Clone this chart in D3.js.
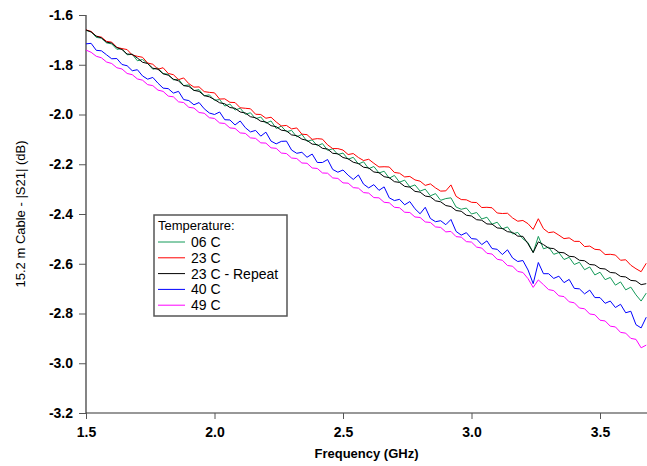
<!DOCTYPE html>
<html>
<head>
<meta charset="utf-8">
<script src="https://cdn.jsdelivr.net/npm/d3@7"></script>
<style>
  body { margin: 0; background: #fff; }
  svg { display: block; font-family: "Liberation Sans", Arial, sans-serif; }
</style>
</head>
<body>
<svg id="chart" width="647" height="466"></svg>
<script>
// sweep: 1.50 GHz to 3.68 GHz, one reading every 0.02 GHz
const freqStart = 1.5;
const freqStep = 0.02;

const seriesNames = ["06 C", "23 C", "23 C - Repeat", "40 C", "49 C"];
const seriesColors = ["#139a58", "#ff0000", "#000000", "#0000ff", "#ff00ff"];

const t06 = [
  -1.662, -1.668, -1.690, -1.693, -1.712, -1.716, -1.738, -1.735, -1.760, -1.758,
  -1.784, -1.779, -1.795, -1.818, -1.813, -1.836, -1.838, -1.861, -1.858, -1.884,
  -1.881, -1.904, -1.900, -1.925, -1.921, -1.943, -1.940, -1.966, -1.958, -1.982,
  -1.975, -1.999, -1.993, -2.017, -2.010, -2.035, -2.026, -2.056, -2.047, -2.069,
  -2.064, -2.090, -2.080, -2.108, -2.102, -2.126, -2.117, -2.144, -2.138, -2.161,
  -2.155, -2.180, -2.172, -2.199, -2.190, -2.218, -2.209, -2.235, -2.228, -2.256,
  -2.245, -2.272, -2.264, -2.291, -2.283, -2.308, -2.300, -2.327, -2.318, -2.345,
  -2.338, -2.335, -2.372, -2.381, -2.376, -2.400, -2.394, -2.420, -2.413, -2.441,
  -2.433, -2.460, -2.452, -2.480, -2.474, -2.500, -2.515, -2.555, -2.490, -2.540,
  -2.533, -2.562, -2.555, -2.583, -2.574, -2.603, -2.594, -2.624, -2.613, -2.645,
  -2.634, -2.664, -2.655, -2.686, -2.673, -2.705, -2.694, -2.725, -2.750, -2.718
];

const t23 = [
  -1.660, -1.666, -1.685, -1.689, -1.706, -1.709, -1.730, -1.735, -1.739, -1.761,
  -1.766, -1.770, -1.793, -1.798, -1.818, -1.812, -1.835, -1.840, -1.860, -1.853,
  -1.876, -1.890, -1.889, -1.908, -1.911, -1.913, -1.938, -1.937, -1.951, -1.952,
  -1.973, -1.975, -1.977, -1.999, -2.000, -2.015, -2.011, -2.030, -2.046, -2.044,
  -2.058, -2.054, -2.079, -2.081, -2.100, -2.097, -2.099, -2.122, -2.137, -2.137,
  -2.143, -2.161, -2.157, -2.173, -2.185, -2.180, -2.196, -2.211, -2.210, -2.211,
  -2.233, -2.236, -2.251, -2.249, -2.263, -2.268, -2.285, -2.279, -2.295, -2.308,
  -2.307, -2.283, -2.329, -2.342, -2.343, -2.353, -2.354, -2.374, -2.373, -2.375,
  -2.396, -2.398, -2.397, -2.416, -2.429, -2.426, -2.439, -2.462, -2.419, -2.459,
  -2.475, -2.472, -2.485, -2.499, -2.496, -2.510, -2.510, -2.531, -2.529, -2.542,
  -2.544, -2.563, -2.562, -2.565, -2.586, -2.584, -2.606, -2.620, -2.632, -2.598
];

const t23r = [
  -1.660, -1.668, -1.685, -1.692, -1.709, -1.713, -1.731, -1.739, -1.757, -1.758,
  -1.773, -1.790, -1.795, -1.814, -1.818, -1.836, -1.842, -1.858, -1.865, -1.884,
  -1.887, -1.903, -1.907, -1.924, -1.929, -1.940, -1.953, -1.957, -1.972, -1.975,
  -1.990, -1.994, -2.009, -2.013, -2.027, -2.030, -2.045, -2.049, -2.063, -2.066,
  -2.082, -2.085, -2.099, -2.104, -2.119, -2.121, -2.136, -2.139, -2.156, -2.158,
  -2.173, -2.178, -2.192, -2.197, -2.212, -2.215, -2.231, -2.234, -2.250, -2.254,
  -2.270, -2.273, -2.289, -2.292, -2.309, -2.312, -2.328, -2.331, -2.347, -2.351,
  -2.366, -2.370, -2.386, -2.389, -2.405, -2.408, -2.423, -2.425, -2.440, -2.441,
  -2.456, -2.458, -2.471, -2.474, -2.489, -2.490, -2.520, -2.555, -2.512, -2.523,
  -2.537, -2.539, -2.554, -2.556, -2.570, -2.572, -2.586, -2.588, -2.603, -2.605,
  -2.619, -2.621, -2.635, -2.637, -2.651, -2.653, -2.667, -2.669, -2.684, -2.680
];

const t40 = [
  -1.716, -1.714, -1.742, -1.744, -1.760, -1.776, -1.775, -1.799, -1.804, -1.824,
  -1.820, -1.845, -1.858, -1.851, -1.874, -1.894, -1.896, -1.914, -1.907, -1.940,
  -1.944, -1.961, -1.952, -1.977, -1.994, -2.000, -1.990, -2.021, -2.022, -2.042,
  -2.026, -2.053, -2.070, -2.064, -2.087, -2.071, -2.107, -2.118, -2.108, -2.107,
  -2.143, -2.156, -2.152, -2.172, -2.159, -2.193, -2.193, -2.181, -2.221, -2.232,
  -2.223, -2.244, -2.261, -2.243, -2.280, -2.295, -2.282, -2.305, -2.291, -2.335,
  -2.346, -2.341, -2.363, -2.350, -2.379, -2.399, -2.373, -2.418, -2.431, -2.427,
  -2.443, -2.422, -2.470, -2.485, -2.475, -2.499, -2.501, -2.523, -2.508, -2.539,
  -2.542, -2.563, -2.544, -2.577, -2.591, -2.587, -2.625, -2.680, -2.595, -2.640,
  -2.640, -2.659, -2.650, -2.676, -2.663, -2.699, -2.701, -2.721, -2.706, -2.736,
  -2.736, -2.759, -2.750, -2.776, -2.763, -2.797, -2.791, -2.845, -2.858, -2.815
];

const t49 = [
  -1.741, -1.750, -1.766, -1.772, -1.789, -1.795, -1.812, -1.817, -1.835, -1.840,
  -1.857, -1.862, -1.880, -1.884, -1.902, -1.907, -1.926, -1.929, -1.949, -1.952,
  -1.971, -1.974, -1.992, -1.995, -2.013, -2.016, -2.034, -2.036, -2.054, -2.056,
  -2.074, -2.076, -2.094, -2.096, -2.114, -2.115, -2.134, -2.136, -2.155, -2.157,
  -2.175, -2.177, -2.195, -2.196, -2.215, -2.217, -2.235, -2.236, -2.255, -2.257,
  -2.275, -2.276, -2.294, -2.296, -2.314, -2.316, -2.334, -2.335, -2.353, -2.355,
  -2.373, -2.375, -2.393, -2.394, -2.412, -2.414, -2.432, -2.434, -2.452, -2.454,
  -2.472, -2.470, -2.491, -2.493, -2.511, -2.513, -2.533, -2.537, -2.558, -2.561,
  -2.582, -2.586, -2.607, -2.610, -2.631, -2.635, -2.660, -2.695, -2.665, -2.684,
  -2.704, -2.708, -2.729, -2.732, -2.753, -2.757, -2.778, -2.781, -2.802, -2.805,
  -2.827, -2.830, -2.851, -2.854, -2.876, -2.879, -2.900, -2.904, -2.938, -2.927
];

const xTicks = [1.5, 2.0, 2.5, 3.0, 3.5];
const yTicks = [-1.6, -1.8, -2.0, -2.2, -2.4, -2.6, -2.8, -3.0, -3.2];

const LEFT = 86;
const RIGHT = 647;
const TOP = 15;
const BOTTOM = 413;

const svg = d3.select("#chart");

const x = d3.scaleLinear()
  .domain([1.5, 1.5 + (RIGHT - LEFT) / 257])
  .range([LEFT, RIGHT]);

const y = d3.scaleLinear()
  .domain([-3.2, -1.6])
  .range([BOTTOM, TOP]);

// axes
const xAxis = svg.append("g")
  .attr("transform", `translate(0, ${BOTTOM})`)
  .call(d3.axisBottom(x).tickValues(xTicks).tickSize(6).tickPadding(8)
    .tickFormat(d => d.toFixed(1)));

const yAxis = svg.append("g")
  .attr("transform", `translate(${LEFT}, 0)`)
  .call(d3.axisLeft(y).tickValues(yTicks).tickSize(7).tickPadding(6)
    .tickFormat(d => d.toFixed(1)));

[xAxis, yAxis].forEach(a => {
  a.select(".domain").attr("stroke", "#333").attr("stroke-width", 1.2);
  a.selectAll(".tick line").attr("stroke", "#555");
  a.selectAll(".tick text")
    .attr("fill", "#000")
    .attr("font-size", 14)
    .attr("font-weight", "bold")
    .attr("font-family", "Liberation Sans, Arial, sans-serif");
});
// x axis line runs to the right edge with no end tick
xAxis.select(".domain").attr("d", `M${LEFT},0H${RIGHT}`);
yAxis.select(".domain").attr("d", `M0,${TOP}V${BOTTOM}`);

// data lines
const allSeries = [t06, t23, t23r, t40, t49];
const line = d3.line()
  .x((d, i) => x(freqStart + freqStep * i))
  .y(d => y(d));

svg.append("g")
  .selectAll("path")
  .data(allSeries)
  .enter()
  .append("path")
  .attr("d", d => line(d))
  .attr("fill", "none")
  .attr("stroke", (d, i) => seriesColors[i])
  .attr("stroke-width", 1)
  .attr("stroke-linejoin", "round");

// axis titles
svg.append("text")
  .attr("x", (LEFT + RIGHT) / 2)
  .attr("y", 458)
  .attr("text-anchor", "middle")
  .attr("font-size", 13)
  .attr("font-weight", "bold")
  .text("Frequency (GHz)");

svg.append("text")
  .attr("transform", `translate(25, ${(TOP + BOTTOM) / 2}) rotate(-90)`)
  .attr("text-anchor", "middle")
  .attr("font-size", 13)
  .text("15.2 m Cable - |S21| (dB)");

// legend
const legend = svg.append("g").attr("transform", "translate(154, 215)");

legend.append("rect")
  .attr("width", 133)
  .attr("height", 101)
  .attr("fill", "#fff")
  .attr("stroke", "#555")
  .attr("stroke-width", 1.5);

legend.append("text")
  .attr("x", 4)
  .attr("y", 15)
  .attr("font-size", 13)
  .text("Temperature:");

seriesNames.forEach((name, i) => {
  const cy = 27 + i * 15.8;
  legend.append("line")
    .attr("x1", 4)
    .attr("x2", 31)
    .attr("y1", cy)
    .attr("y2", cy)
    .attr("stroke", seriesColors[i])
    .attr("stroke-width", 1);
  legend.append("text")
    .attr("x", 37)
    .attr("y", cy + 5)
    .attr("font-size", 14)
    .text(name);
});
</script>
</body>
</html>
